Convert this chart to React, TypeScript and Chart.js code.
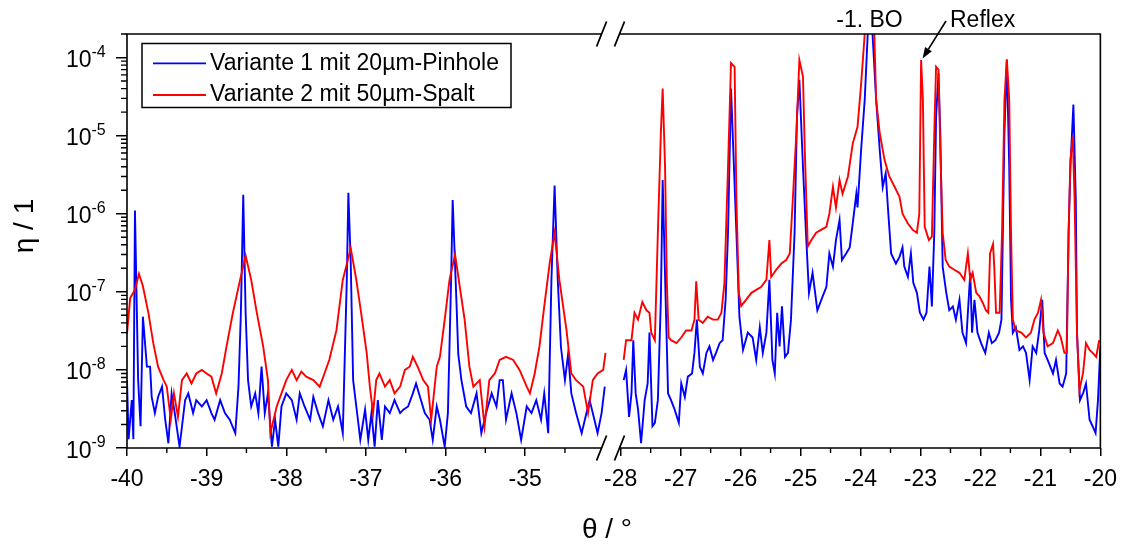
import React, { useEffect, useRef } from 'react';
import { Chart, registerables } from 'chart.js';

Chart.register(...registerables);

const FONT = '"Liberation Sans", Arial, Helvetica, sans-serif';

const seriesLabels = ['Variante 1 mit 20µm-Pinhole', 'Variante 2 mit 50µm-Spalt'];
const seriesColors = ['#0000ff', '#ff0000'];

const xTicksLeft = [-40, -39, -38, -37, -36, -35];
const xTicksRight = [-28, -27, -26, -25, -24, -23, -22, -21, -20];
const xMinorLeft = [-39.5, -38.5, -37.5, -36.5, -35.5, -34.5];
const xMinorRight = [-27.5, -26.5, -25.5, -24.5, -23.5, -22.5, -21.5, -20.5];
const yTicks = [1e-9, 1e-8, 1e-7, 1e-6, 1e-5, 1e-4];
const yTickBase = '10';
const yTickExponents = ['-9', '-8', '-7', '-6', '-5', '-4'];
const xRangeLeft = [-40, -33.8];
const xRangeRight = [-28, -20];
const xBreak = [-34.04, -28.02];
const yRange = [1e-9, 2e-4];
const xTitle = 'θ / °';
const yTitle = 'η / 1';
const peakLabel = '-1. BO';
const reflexLabel = 'Reflex';
const reflexPoint = [-22.99, 9.3e-5];
const peakLabelTheta = -23.85;

// Variante 1 (blue), left part of the broken axis
const thetaLeftV1 = [
  -40.00, -39.98, -39.94, -39.92, -39.90, -39.86, -39.83, -39.80, -39.75, -39.71,
  -39.69, -39.65, -39.61, -39.56, -39.52, -39.48, -39.44, -39.40, -39.34, -39.27,
  -39.23, -39.17, -39.13, -39.06, -39.00, -38.94, -38.90, -38.83, -38.77, -38.71,
  -38.64, -38.60, -38.57, -38.54, -38.51, -38.48, -38.44, -38.39, -38.35, -38.31,
  -38.27, -38.23, -38.18, -38.14, -38.10, -38.06, -38.00, -37.93, -37.87, -37.83,
  -37.77, -37.70, -37.66, -37.60, -37.54, -37.47, -37.41, -37.35, -37.29, -37.24,
  -37.22, -37.19, -37.16, -37.10, -37.07, -37.01, -36.97, -36.93, -36.89, -36.85,
  -36.80, -36.76, -36.70, -36.64, -36.57, -36.53, -36.47, -36.41, -36.37, -36.32,
  -36.26, -36.20, -36.16, -36.11, -36.07, -36.01, -35.97, -35.93, -35.91, -35.86,
  -35.84, -35.80, -35.74, -35.68, -35.61, -35.55, -35.49, -35.42, -35.36, -35.32,
  -35.28, -35.24, -35.17, -35.11, -35.05, -34.98, -34.92, -34.86, -34.80, -34.76,
  -34.71, -34.67, -34.63, -34.59, -34.55, -34.50, -34.46, -34.42, -34.36, -34.29,
  -34.23, -34.19, -34.13, -34.09, -34.04, -34.00,
];
const etaLeftV1 = [
  7.4e-9, 1.3e-9, 4.1e-9, 1.3e-9, 1.1e-6, 7.4e-9, 1.9e-9, 4.8e-8, 1.1e-8, 1.1e-8,
  4.5e-9, 2.8e-9, 4.5e-9, 6.1e-9, 2.3e-9, 1.15e-9, 5.0e-9, 2.8e-9, 1.04e-9, 4.1e-9,
  5.0e-9, 2.8e-9, 4.1e-9, 3.4e-9, 4.1e-9, 2.8e-9, 2.3e-9, 4.1e-9, 2.8e-9, 2.3e-9,
  1.55e-9, 6.1e-9, 5.3e-8, 1.75e-6, 5.3e-8, 7.4e-9, 3.4e-9, 5.0e-9, 2.8e-9, 1.1e-8,
  2.8e-9, 5.0e-9, 1.04e-9, 2.3e-9, 1.04e-9, 3.4e-9, 5.0e-9, 4.1e-9, 2.3e-9, 5.0e-9,
  3.4e-9, 2.3e-9, 4.5e-9, 2.8e-9, 1.9e-9, 4.1e-9, 2.3e-9, 3.4e-9, 1.55e-9, 1.4e-7,
  1.85e-6, 2.3e-7, 7.4e-9, 2.3e-9, 1.27e-9, 3.1e-9, 1.27e-9, 2.8e-9, 1.04e-9, 4.1e-9,
  1.27e-9, 3.4e-9, 2.8e-9, 4.1e-9, 2.8e-9, 3.1e-9, 3.4e-9, 5.0e-9, 6.7e-9, 4.5e-9,
  2.8e-9, 2.3e-9, 1.27e-9, 3.4e-9, 2.3e-9, 1.04e-9, 2.8e-9, 1.4e-7, 1.5e-6, 6.3e-8,
  1.6e-8, 7.4e-9, 3.4e-9, 2.8e-9, 5.0e-9, 1.55e-9, 2.8e-9, 5.0e-9, 3.4e-9, 7.4e-9,
  7.4e-9, 2.3e-9, 5.0e-9, 2.8e-9, 1.27e-9, 3.4e-9, 2.8e-9, 4.1e-9, 2.3e-9, 5.0e-9,
  1.55e-9, 1.4e-7, 2.3e-6, 1.4e-7, 1.95e-8, 7.4e-9, 1.6e-8, 5.0e-9, 2.8e-9, 1.55e-9,
  2.8e-9, 4.1e-9, 2.3e-9, 1.55e-9, 2.8e-9, 6.1e-9,
];

// Variante 2 (red), left part
const thetaLeftV2 = [
  -40.00, -39.96, -39.90, -39.85, -39.80, -39.73, -39.67, -39.61, -39.54, -39.50,
  -39.45, -39.41, -39.36, -39.31, -39.25, -39.19, -39.13, -39.06, -39.00, -38.94,
  -38.88, -38.81, -38.75, -38.67, -38.58, -38.51, -38.44, -38.37, -38.29, -38.23,
  -38.20, -38.12, -38.06, -38.00, -37.93, -37.87, -37.81, -37.75, -37.66, -37.58,
  -37.52, -37.46, -37.37, -37.29, -37.19, -37.12, -37.06, -36.99, -36.95, -36.91,
  -36.87, -36.83, -36.76, -36.70, -36.64, -36.57, -36.51, -36.45, -36.41, -36.35,
  -36.28, -36.22, -36.18, -36.11, -36.07, -36.01, -35.95, -35.88, -35.82, -35.76,
  -35.70, -35.65, -35.57, -35.51, -35.45, -35.38, -35.32, -35.24, -35.15, -35.07,
  -34.98, -34.94, -34.88, -34.82, -34.76, -34.69, -34.63, -34.57, -34.48, -34.42,
  -34.36, -34.27, -34.21, -34.15, -34.09, -34.02, -33.99,
];
const etaLeftV2 = [
  2.9e-8, 8.3e-8, 1.06e-7, 1.7e-7, 1.18e-7, 5.3e-8, 2.2e-8, 1.1e-8, 7.4e-9, 6.1e-9,
  2.3e-9, 5.0e-9, 2.5e-9, 7.4e-9, 9.0e-9, 6.7e-9, 9.0e-9, 1.0e-8, 9.0e-9, 8.2e-9,
  5.0e-9, 9.0e-9, 2.0e-8, 5.4e-8, 1.42e-7, 2.9e-7, 1.42e-7, 5.4e-8, 2.0e-8, 7.4e-9,
  1.55e-9, 3.4e-9, 5.0e-9, 7.4e-9, 1.0e-8, 7.4e-9, 9.5e-9, 8.2e-9, 7.4e-9, 6.1e-9,
  9.0e-9, 1.34e-8, 3.2e-8, 1.42e-7, 3.6e-7, 1.42e-7, 5.4e-8, 1.65e-8, 6.1e-9, 2.8e-9,
  7.4e-9, 9.0e-9, 6.1e-9, 7.4e-9, 5.0e-9, 6.1e-9, 1.0e-8, 1.1e-8, 1.47e-8, 1.1e-8,
  7.4e-9, 6.1e-9, 2.3e-9, 1.1e-8, 1.47e-8, 4.4e-8, 1.42e-7, 3.0e-7, 1.15e-7, 4.4e-8,
  1.1e-8, 6.1e-9, 7.4e-9, 1.9e-9, 7.4e-9, 9.0e-9, 1.34e-8, 1.47e-8, 1.34e-8, 1.0e-8,
  6.1e-9, 5.0e-9, 9.0e-9, 2.0e-8, 6.5e-8, 2.4e-7, 5.7e-7, 1.42e-7, 3.2e-8, 9.0e-9,
  7.4e-9, 6.1e-9, 2.8e-9, 7.4e-9, 9.0e-9, 1.0e-8, 1.65e-8,
];

// Variante 1 (blue), right part
const thetaRightV1 = [
  -27.95, -27.91, -27.86, -27.82, -27.79, -27.75, -27.71, -27.66, -27.60, -27.55,
  -27.52, -27.47, -27.43, -27.38, -27.33, -27.30, -27.25, -27.21, -27.16, -27.10,
  -27.03, -26.99, -26.93, -26.88, -26.81, -26.77, -26.73, -26.68, -26.63, -26.57,
  -26.52, -26.46, -26.41, -26.35, -26.30, -26.25, -26.21, -26.16, -26.07, -26.02,
  -25.96, -25.88, -25.80, -25.74, -25.68, -25.63, -25.57, -25.52, -25.47, -25.43,
  -25.39, -25.35, -25.31, -25.26, -25.21, -25.16, -25.10, -25.06, -25.02, -24.96,
  -24.91, -24.86, -24.80, -24.72, -24.63, -24.57, -24.52, -24.46, -24.41, -24.35,
  -24.31, -24.24, -24.18, -24.13, -24.07, -24.05, -23.99, -23.93, -23.88, -23.83,
  -23.80, -23.74, -23.68, -23.63, -23.58, -23.54, -23.49, -23.41, -23.35, -23.30,
  -23.27, -23.21, -23.16, -23.12, -23.06, -23.01, -22.95, -22.90, -22.85, -22.81,
  -22.77, -22.74, -22.70, -22.67, -22.63, -22.57, -22.52, -22.46, -22.41, -22.35,
  -22.30, -22.24, -22.17, -22.14, -22.10, -22.05, -21.99, -21.92, -21.86, -21.81,
  -21.75, -21.69, -21.65, -21.60, -21.56, -21.52, -21.49, -21.46, -21.41, -21.35,
  -21.29, -21.24, -21.18, -21.13, -21.07, -21.02, -20.97, -20.93, -20.88, -20.79,
  -20.74, -20.68, -20.63, -20.57, -20.53, -20.50, -20.45, -20.41, -20.39, -20.34,
  -20.29, -20.24, -20.18, -20.13, -20.08, -20.04, -20.00,
];
const etaRightV1 = [
  7.4e-9, 1.0e-8, 2.5e-9, 5.0e-9, 2.4e-8, 5.0e-9, 3.1e-9, 1.15e-9, 4.1e-9, 6.7e-9,
  3.0e-8, 1.9e-9, 2.1e-9, 4.1e-9, 7.9e-8, 2.7e-6, 7.9e-8, 5.0e-9, 4.1e-9, 3.1e-9,
  2.1e-9, 6.7e-9, 4.5e-9, 8.2e-9, 9.0e-9, 1.65e-8, 4.4e-8, 1.1e-8, 9.0e-9, 1.65e-8,
  2.0e-8, 1.34e-8, 1.65e-8, 2.2e-8, 2.4e-8, 7.9e-8, 5.7e-7, 4.0e-5, 5.7e-7, 4.8e-8,
  1.8e-8, 3.0e-8, 2.6e-8, 1.34e-8, 3.5e-8, 1.65e-8, 3.0e-8, 1.42e-7, 1.34e-8, 9.0e-9,
  5.4e-8, 2.0e-8, 6.5e-8, 1.47e-8, 1.65e-8, 4.4e-8, 5.7e-7, 1.75e-5, 5.2e-5, 4.0e-6,
  5.7e-7, 9.7e-8, 1.75e-7, 5.8e-8, 8.8e-8, 1.15e-7, 3.1e-7, 2.1e-7, 4.6e-7, 8.3e-7,
  2.55e-7, 3.1e-7, 3.7e-7, 7.5e-7, 1.8e-6, 1.2e-6, 6.6e-6, 2.9e-5, 2.0e-4, 1.0e-3,
  2.0e-4, 2.9e-5, 6.6e-6, 2.2e-6, 3.3e-6, 1.1e-6, 3.1e-7, 2.3e-7, 2.8e-7, 3.7e-7,
  2.1e-7, 1.55e-7, 3.1e-7, 1.3e-7, 9.7e-8, 5.4e-8, 4.4e-8, 5.4e-8, 2.1e-7, 6.5e-8,
  5.7e-7, 1.75e-5, 6.3e-5, 1.08e-5, 2.1e-7, 9.7e-8, 5.8e-8, 6.5e-8, 4.4e-8, 7.9e-8,
  3.0e-8, 2.2e-8, 1.75e-7, 3.0e-8, 7.9e-8, 3.0e-8, 2.2e-8, 1.65e-8, 3.0e-8, 2.2e-8,
  2.4e-8, 3.0e-8, 4.4e-8, 1.08e-5, 9.3e-5, 4.0e-6, 7.9e-8, 3.0e-8, 3.5e-8, 1.8e-8,
  2.0e-8, 1.65e-8, 7.4e-9, 2.0e-8, 1.65e-8, 3.2e-8, 7.9e-8, 1.65e-8, 1.34e-8, 9.0e-9,
  1.34e-8, 6.7e-9, 6.1e-9, 9.0e-9, 5.7e-7, 4.0e-6, 2.5e-5, 1.5e-6, 3.0e-8, 4.1e-9,
  5.0e-9, 6.7e-9, 2.3e-9, 1.9e-9, 1.55e-9, 4.1e-9, 2.0e-8,
];

// Variante 2 (red), right part
const thetaRightV2 = [
  -27.95, -27.91, -27.82, -27.77, -27.71, -27.64, -27.57, -27.52, -27.49, -27.43,
  -27.38, -27.33, -27.30, -27.26, -27.23, -27.20, -27.16, -27.07, -26.99, -26.91,
  -26.82, -26.77, -26.74, -26.70, -26.63, -26.55, -26.46, -26.38, -26.32, -26.27,
  -26.21, -26.16, -26.10, -26.07, -26.03, -25.99, -25.91, -25.82, -25.74, -25.66,
  -25.57, -25.52, -25.49, -25.41, -25.32, -25.24, -25.18, -25.13, -25.07, -25.02,
  -24.96, -24.93, -24.88, -24.82, -24.74, -24.66, -24.57, -24.52, -24.46, -24.41,
  -24.35, -24.30, -24.21, -24.13, -24.05, -23.99, -23.93, -23.86, -23.77, -23.74,
  -23.68, -23.60, -23.52, -23.43, -23.35, -23.30, -23.21, -23.13, -23.06, -23.02,
  -22.99, -22.96, -22.93, -22.86, -22.81, -22.77, -22.74, -22.70, -22.67, -22.63,
  -22.58, -22.52, -22.43, -22.35, -22.27, -22.21, -22.17, -22.13, -22.07, -22.02,
  -21.96, -21.91, -21.87, -21.84, -21.79, -21.77, -21.74, -21.68, -21.64, -21.60,
  -21.56, -21.52, -21.49, -21.46, -21.41, -21.32, -21.24, -21.16, -21.10, -21.04,
  -20.99, -20.95, -20.88, -20.79, -20.71, -20.66, -20.60, -20.56, -20.53, -20.50,
  -20.46, -20.43, -20.39, -20.35, -20.29, -20.24, -20.18, -20.13, -20.07, -20.02,
];
const etaRightV2 = [
  1.34e-8, 2.4e-8, 2.4e-8, 5.4e-8, 4.4e-8, 7.4e-8, 5.8e-8, 5.4e-8, 3.0e-8, 2.4e-8,
  5.7e-7, 1.08e-5, 4.0e-5, 4.0e-6, 1.3e-7, 2.6e-8, 2.4e-8, 2.2e-8, 2.6e-8, 3.2e-8,
  3.2e-8, 4.4e-8, 1.36e-7, 4.4e-8, 4.0e-8, 4.8e-8, 4.4e-8, 4.4e-8, 5.4e-8, 1.3e-7,
  4.0e-6, 8.5e-5, 7.6e-5, 1.5e-6, 9.7e-8, 6.6e-8, 7.9e-8, 9.7e-8, 1.06e-7, 1.15e-7,
  1.42e-7, 4.6e-7, 1.55e-7, 1.9e-7, 2.3e-7, 2.55e-7, 3.1e-7, 1.5e-6, 1.08e-5, 9.3e-5,
  5.7e-5, 6.6e-6, 3.8e-7, 4.6e-7, 5.7e-7, 6.2e-7, 6.8e-7, 1.0e-6, 2.2e-6, 1.2e-6,
  2.7e-6, 1.8e-6, 3.0e-6, 7.9e-6, 1.3e-5, 4.6e-5, 2.0e-4, 1.0e-3, 2.0e-4, 2.9e-5,
  1.08e-5, 4.9e-6, 3.0e-6, 2.2e-6, 1.65e-6, 1.0e-6, 7.5e-7, 6.2e-7, 5.7e-7, 1.0e-6,
  9.3e-5, 2.9e-5, 6.8e-7, 4.6e-7, 5.1e-7, 1.08e-5, 7.6e-5, 7.0e-5, 6.6e-6, 5.7e-7,
  2.55e-7, 2.1e-7, 1.9e-7, 1.75e-7, 1.42e-7, 3.1e-7, 1.42e-7, 1.75e-7, 9.7e-8, 8.8e-8,
  7.2e-8, 5.8e-8, 5.4e-8, 3.1e-7, 4.1e-7, 2.1e-7, 5.4e-8, 5.4e-8, 5.7e-7, 2.9e-5,
  9.5e-5, 2.9e-5, 5.7e-7, 4.4e-8, 3.2e-8, 3.0e-8, 2.6e-8, 3.0e-8, 4.4e-8, 5.4e-8,
  7.9e-8, 3.0e-8, 2.0e-8, 2.2e-8, 3.2e-8, 2.6e-8, 1.65e-8, 1.65e-8, 5.7e-7, 4.9e-6,
  9.7e-6, 1.5e-6, 3.0e-8, 5.5e-9, 9.0e-9, 2.2e-8, 1.8e-8, 1.65e-8, 1.47e-8, 2.4e-8,
];

const pts = (xs: number[], ys: number[]) => xs.map((x, i) => ({ x, y: ys[i] }));

const decorPlugin = {
  id: 'decor',
  afterDraw(chart: any) {
    const { ctx, chartArea: ca, scales } = chart;
    const xl = scales.xl;
    const xr = scales.xr;
    const ys = scales.y;
    const lEnd = xl.getPixelForValue(xBreak[0]);
    const rStart = xr.getPixelForValue(xBreak[1]);
    ctx.save();
    ctx.strokeStyle = '#000';
    ctx.fillStyle = '#000';
    ctx.lineCap = 'butt';

    // frame (with axis break)
    ctx.lineWidth = 1.6;
    ctx.beginPath();
    ctx.moveTo(ca.left, ca.top);
    ctx.lineTo(ca.left, ca.bottom);
    ctx.moveTo(ca.right, ca.top);
    ctx.lineTo(ca.right, ca.bottom);
    for (const yy of [ca.top, ca.bottom]) {
      ctx.moveTo(ca.left - 0.8, yy);
      ctx.lineTo(lEnd, yy);
      ctx.moveTo(rStart, yy);
      ctx.lineTo(ca.right + 0.8, yy);
    }
    ctx.stroke();

    // break marks
    ctx.lineWidth = 1.8;
    ctx.beginPath();
    for (const yy of [ca.top, ca.bottom]) {
      for (const cx of [lEnd, rStart]) {
        ctx.moveTo(cx - 5, yy + 12.5);
        ctx.lineTo(cx + 5, yy - 12.5);
      }
    }
    ctx.stroke();

    // minor ticks
    ctx.lineWidth = 1.4;
    ctx.beginPath();
    for (const v of xMinorLeft) {
      const px = xl.getPixelForValue(v);
      ctx.moveTo(px, ca.bottom);
      ctx.lineTo(px, ca.bottom + 5);
    }
    for (const v of xMinorRight) {
      const px = xr.getPixelForValue(v);
      ctx.moveTo(px, ca.bottom);
      ctx.lineTo(px, ca.bottom + 5);
    }
    for (let d = -9; d <= -4; d++) {
      for (let m = 2; m <= 9; m++) {
        const v = m * Math.pow(10, d);
        if (v > yRange[1] * 1.0001) continue;
        const py = ys.getPixelForValue(v);
        ctx.moveTo(ca.left - 6, py);
        ctx.lineTo(ca.left, py);
      }
    }
    ctx.stroke();

    // y tick labels: 10 with superscript exponent
    ctx.fillStyle = '#000';
    yTicks.forEach((v, i) => {
      const py = ys.getPixelForValue(v);
      ctx.font = `23px ${FONT}`;
      ctx.textAlign = 'right';
      ctx.textBaseline = 'alphabetic';
      ctx.fillText(yTickBase, 91.5, py + 9.5);
      ctx.font = `16px ${FONT}`;
      ctx.textAlign = 'left';
      ctx.fillText(yTickExponents[i], 91.5, py - 1);
    });

    // legend box
    const lx = 142, ly = 43.5, lw = 369, lh = 64;
    ctx.strokeStyle = '#000';
    ctx.lineWidth = 1.5;
    ctx.strokeRect(lx, ly, lw, lh);
    ctx.font = `23px ${FONT}`;
    ctx.textBaseline = 'middle';
    ctx.textAlign = 'left';
    const rows = [63.3, 95];
    seriesLabels.forEach((lab, i) => {
      ctx.strokeStyle = seriesColors[i];
      ctx.lineWidth = 1.8;
      ctx.beginPath();
      ctx.moveTo(153, rows[i]);
      ctx.lineTo(206, rows[i]);
      ctx.stroke();
      ctx.fillStyle = '#000';
      ctx.fillText(lab, 210, rows[i]);
    });

    // annotations above the plot
    ctx.fillStyle = '#000';
    ctx.strokeStyle = '#000';
    ctx.textBaseline = 'alphabetic';
    ctx.textAlign = 'center';
    ctx.fillText(peakLabel, xr.getPixelForValue(peakLabelTheta), 27);
    ctx.textAlign = 'left';
    ctx.fillText(reflexLabel, 950, 27);
    // arrow
    const tx = xr.getPixelForValue(reflexPoint[0]) + 1.5;
    const ty = ys.getPixelForValue(reflexPoint[1]) - 1.5;
    const sx = 946, sy = 21;
    const dx = tx - sx, dy = ty - sy;
    const len = Math.hypot(dx, dy);
    const ux = dx / len, uy = dy / len;
    const bx = tx - 11 * ux, by = ty - 11 * uy;
    ctx.lineWidth = 1.6;
    ctx.beginPath();
    ctx.moveTo(sx, sy);
    ctx.lineTo(bx, by);
    ctx.stroke();
    ctx.beginPath();
    ctx.moveTo(tx, ty);
    ctx.lineTo(bx - 4 * uy, by + 4 * ux);
    ctx.lineTo(bx + 4 * uy, by - 4 * ux);
    ctx.closePath();
    ctx.fill();

    // axis titles
    ctx.font = `28px ${FONT}`;
    ctx.textAlign = 'center';
    ctx.textBaseline = 'alphabetic';
    ctx.fillText(xTitle, 607, 538);
    ctx.save();
    ctx.translate(33, 226);
    ctx.rotate(-Math.PI / 2);
    ctx.fillText(yTitle, 0, 0);
    ctx.restore();

    ctx.restore();
  },
};

export default function App() {
  const ref = useRef<HTMLCanvasElement>(null);
  useEffect(() => {
    if (!ref.current) return;
    const tickFont = { family: FONT, size: 23 };
    const common = {
      borderWidth: 1.9,
      pointRadius: 0,
      pointHoverRadius: 0,
      tension: 0,
      fill: false,
      yAxisID: 'y',
    };
    const chart = new Chart(ref.current, {
      type: 'line',
      data: {
        datasets: [
          { ...common, label: seriesLabels[1], data: pts(thetaLeftV2, etaLeftV2), borderColor: seriesColors[1], xAxisID: 'xl' },
          { ...common, label: seriesLabels[1], data: pts(thetaRightV2, etaRightV2), borderColor: seriesColors[1], xAxisID: 'xr' },
          { ...common, label: seriesLabels[0], data: pts(thetaLeftV1, etaLeftV1), borderColor: seriesColors[0], xAxisID: 'xl' },
          { ...common, label: seriesLabels[0], data: pts(thetaRightV1, etaRightV1), borderColor: seriesColors[0], xAxisID: 'xr' },
        ],
      },
      options: {
        animation: false,
        responsive: true,
        maintainAspectRatio: false,
        events: [],
        layout: { padding: { top: 34, right: 26, left: 0, bottom: 0 } },
        plugins: { legend: { display: false }, tooltip: { enabled: false } },
        scales: {
          xl: {
            type: 'linear',
            position: 'bottom',
            stack: 'xs',
            stackWeight: 494,
            min: xRangeLeft[0],
            max: xRangeLeft[1],
            afterBuildTicks: (s: any) => { s.ticks = xTicksLeft.map((v) => ({ value: v })); },
            afterFit: (s: any) => { s.height = 99; },
            border: { display: false },
            grid: { drawOnChartArea: false, drawTicks: true, tickLength: 8, color: '#000', lineWidth: 1.5 },
            ticks: { font: tickFont, color: '#000', padding: 10, maxRotation: 0, autoSkip: false, callback: (v: any) => String(v) },
          },
          xr: {
            type: 'linear',
            position: 'bottom',
            stack: 'xs',
            stackWeight: 480,
            min: xRangeRight[0],
            max: xRangeRight[1],
            afterBuildTicks: (s: any) => { s.ticks = xTicksRight.map((v) => ({ value: v })); },
            afterFit: (s: any) => { s.height = 99; },
            border: { display: false },
            grid: { drawOnChartArea: false, drawTicks: true, tickLength: 8, color: '#000', lineWidth: 1.5 },
            ticks: { font: tickFont, color: '#000', padding: 10, maxRotation: 0, autoSkip: false, callback: (v: any) => String(v) },
          },
          y: {
            type: 'logarithmic',
            position: 'left',
            min: yRange[0],
            max: yRange[1],
            afterBuildTicks: (s: any) => { s.ticks = yTicks.map((v) => ({ value: v })); },
            afterFit: (s: any) => { s.width = 127; },
            border: { display: false },
            grid: { drawOnChartArea: false, drawTicks: true, tickLength: 11, color: '#000', lineWidth: 1.5 },
            ticks: { display: false },
          },
        },
      },
      plugins: [decorPlugin],
    } as any);
    return () => chart.destroy();
  }, []);
  return (
    <div style={{ position: 'fixed', left: 0, top: 0, width: 1127, height: 547, background: '#fff' }}>
      <canvas ref={ref} />
    </div>
  );
}
